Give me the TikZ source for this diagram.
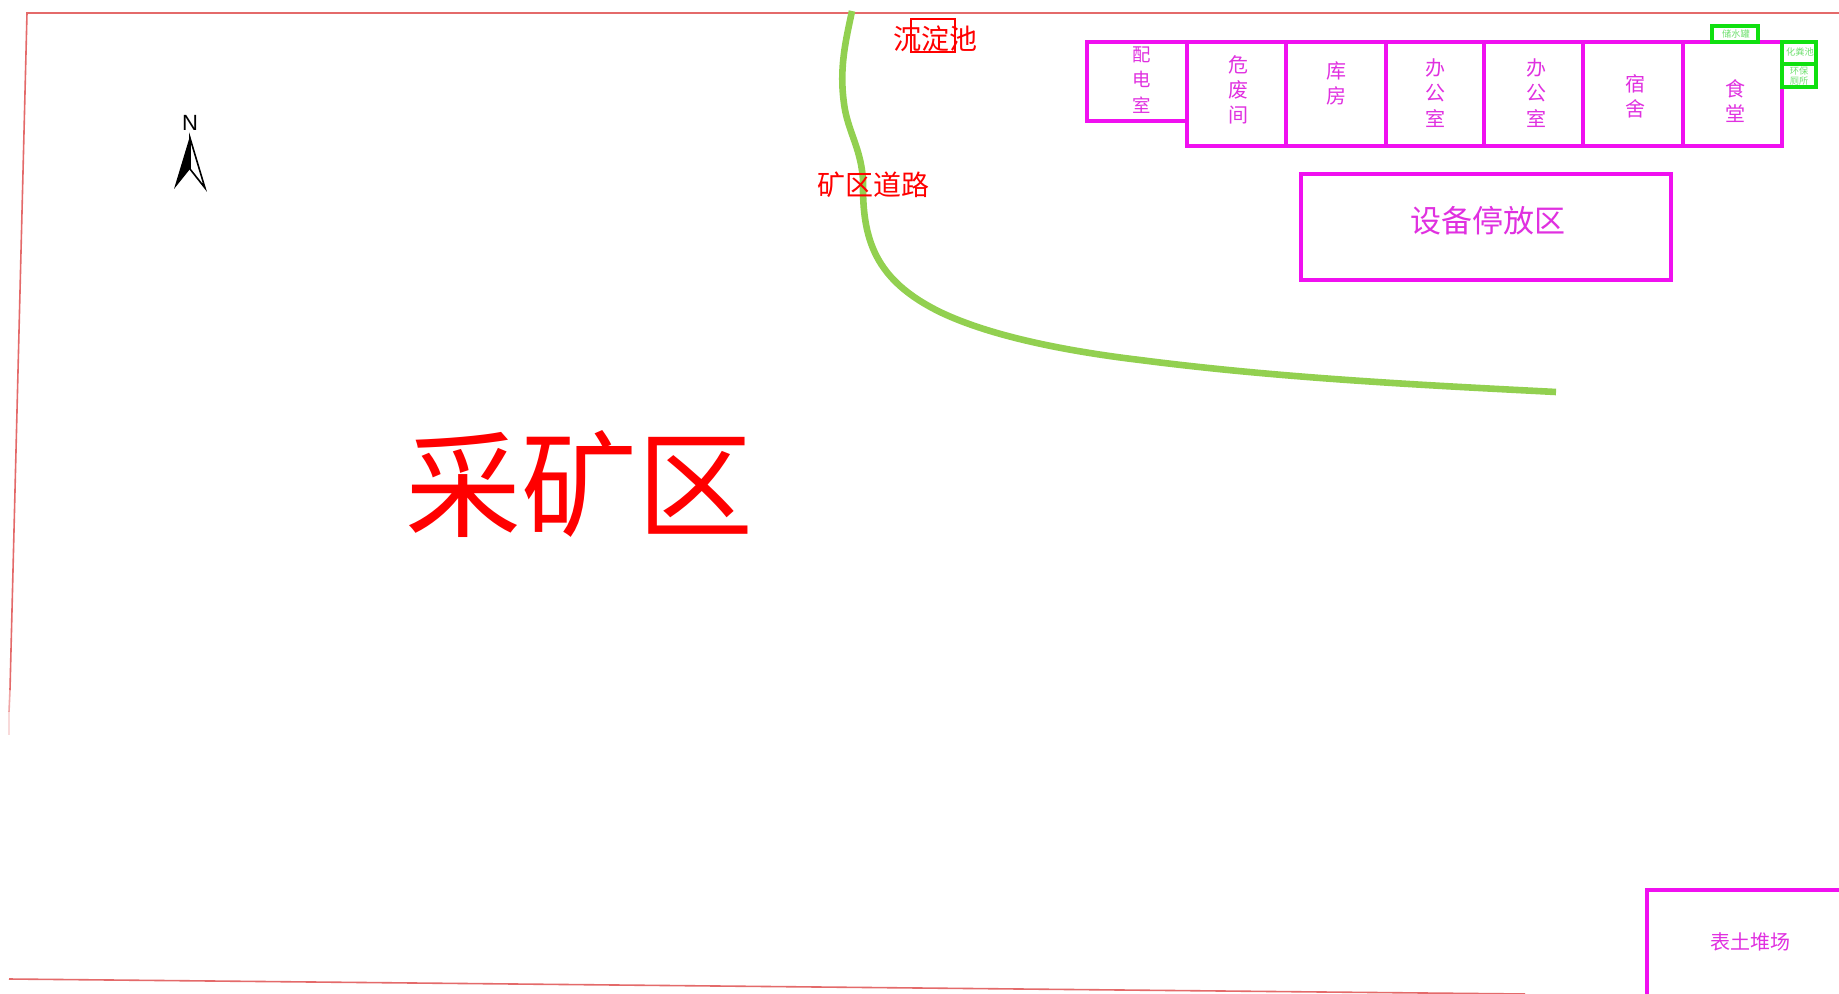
\documentclass[tikz,border=0pt]{standalone}
\usepackage{fontspec}
\setmainfont{Liberation Sans}
\newfontfamily\cjk{Noto Sans CJK SC}
\definecolor{roomc}{HTML}{F010F0}
\definecolor{roomt}{HTML}{E030E0}
\definecolor{greenb}{HTML}{10E010}
\definecolor{greent}{HTML}{70E070}
\definecolor{roadc}{HTML}{92D050}
\definecolor{borderc}{HTML}{E46A6A}
\newcommand{\fs}[1]{\fontsize{#1}{#1}\selectfont}
\tikzset{
  x=0.5pt,y=-0.5pt,
  room/.style={draw=roomc,line width=1.7pt},
  tank/.style={draw=greenb,line width=1.7pt},
  roomlabel/.style={text=roomt,inner sep=0pt,align=center,font=\cjk\fs{10}},
  tanklabel/.style={text=greent,inner sep=0pt,align=center,font=\cjk\fs{4.6}},
  redlabel/.style={text=red,inner sep=0pt,font=\cjk\fs{14}},
  boundary/.style={draw=borderc,line width=0.8pt},
  road/.style={draw=roadc,line width=3.3pt}
}
\begin{document}
\begin{tikzpicture}
\useasboundingbox (0,0) rectangle (1839,994);
\clip (0,0) rectangle (1839,994);
\fill[white] (0,0) rectangle (1839,994);
% site boundary
\draw[boundary] (1839,13) -- (27,13) -- (10,690);
\draw[boundary,draw=borderc!60] (10,690) -- (9,712);
\draw[boundary,draw=borderc!25] (9,712) -- (9,735);
\draw[boundary] (9,979) -- (1525,994);
% road
\draw[road] (852,11) .. controls (846,40) and (838,70) .. (845,110)
  .. controls (850,135) and (861,150) .. (863,180)
  .. controls (862,240) and (875,280) .. (940,312)
  .. controls (990,336) and (1065,351) .. (1140,360)
  .. controls (1280,378) and (1420,385) .. (1556,392);
% rooms
\draw[room] (1087,42) rectangle (1187,121);
\draw[room] (1187,42) rectangle (1782,146);
\draw[room] (1286,42) -- (1286,146);
\draw[room] (1386,42) -- (1386,146);
\draw[room] (1484,42) -- (1484,146);
\draw[room] (1583,42) -- (1583,146);
\draw[room] (1683,42) -- (1683,146);
\draw[room] (1301,174) rectangle (1671,280);
\draw[room] (1647,1000) -- (1647,890) -- (1845,890);
% tanks
\draw[tank] (1712,26) rectangle (1758,42);
\draw[tank] (1782,42) rectangle (1816,64);
\draw[tank] (1782,64) rectangle (1816,87);
\draw[draw=red,line width=1.2pt] (911,19) rectangle (955,52);
% labels
\node[roomlabel,font=\cjk\fs{9.2}] (pd) at (1142,80) {配\\[3.6pt]电\\[3.6pt]室};
\node[roomlabel] (wf) at (1238,90) {危\\[2.6pt]废\\[2.6pt]间};
\node[roomlabel] (kf) at (1336,83) {库\\[2.6pt]房};
\node[roomlabel] (bg1) at (1435,93) {办\\[2.6pt]公\\[2.6pt]室};
\node[roomlabel] (bg2) at (1536,93) {办\\[2.6pt]公\\[2.6pt]室};
\node[roomlabel] (ss) at (1635,96) {宿\\[2.6pt]舍};
\node[roomlabel] (st) at (1735,101) {食\\[2.6pt]堂};
\node[roomlabel,font=\cjk\fs{15.5}] (sb) at (1488,221) {设备停放区};
\node[roomlabel] (bt) at (1750,942) {表土堆场};
\node[tanklabel] (cs) at (1736,34) {储水罐};
\node[tanklabel] (hf) at (1800,52) {化粪池};
\node[tanklabel] (hb) at (1799,76) {环保\\[0.8pt]厕所};
\node[redlabel] (cd) at (935,39) {沉淀池};
\node[redlabel] (kq) at (873,185) {矿区道路};
\node[text=red,inner sep=0pt,font=\cjk\fs{58}] (cq) at (579,484) {采矿区};
% north arrow
\node[inner sep=0pt,font=\fs{11}] (north) at (190,123) {N};
\draw[black,line width=0.8pt,line join=miter] (190,138) -- (205,188) -- (190,169) -- cycle;
\fill[black] (190,136) -- (174,189) -- (190,169) -- cycle;
\end{tikzpicture}
\end{document}
